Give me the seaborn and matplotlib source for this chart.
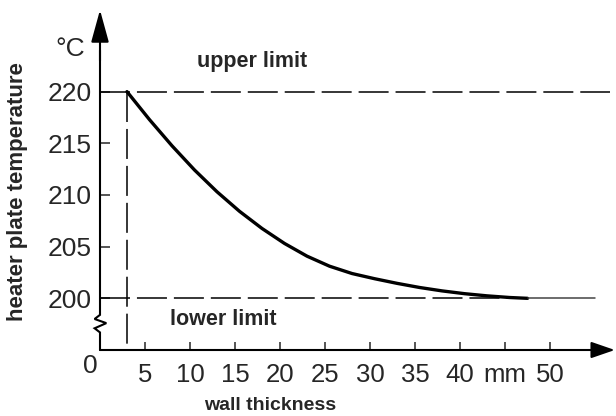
import matplotlib
matplotlib.use('Agg')
import matplotlib.pyplot as plt
import seaborn as sns
import pandas as pd

# curve
thickness = [3, 5.5, 8, 10.5, 13, 15.5, 18, 20.5, 23, 25.5, 28, 30.5, 33, 35.5,
             38, 40.5, 43, 45.5, 47.5]
temperature = [220.0, 217.29, 214.76, 212.42, 210.31, 208.42, 206.76, 205.31, 204.08, 203.11, 202.4,
               201.9, 201.45, 201.05, 200.72, 200.45, 200.24, 200.08, 200.0]

upper_limit = 220
lower_limit = 200
min_thickness = 3
upper_end = 56.7
lower_end = 55

x_ticks = [5, 10, 15, 20, 25, 30, 35, 40, 45, 50]
x_labels = ['5', '10', '15', '20', '25', '30', '35', '40', 'mm', '50']
y_ticks = [200, 205, 210, 215, 220]

sns.set_style('white')
plt.rcParams['font.family'] = ['Liberation Sans', 'DejaVu Sans']

fig = plt.figure(figsize=(6.16, 4.16), dpi=100)
ax = fig.add_axes([100 / 616, 66 / 416, 516 / 616, 340 / 416])
ax.set_xlim(0, 57.33)
ax.set_ylim(195, 227.9)
for s in ax.spines.values():
    s.set_visible(False)

df = pd.DataFrame({'thickness': thickness, 'temperature': temperature})
sns.lineplot(data=df, x='thickness', y='temperature', color='black', linewidth=2.4, ax=ax,
             clip_on=False, solid_joinstyle='round')

dash = (0, (21.6 / 1.1, 5.0 / 1.1))
ax.plot([0, upper_end], [upper_limit, upper_limit], color='black', lw=1.1, linestyle=dash, clip_on=False)
ax.plot([0, thickness[-1]], [lower_limit, lower_limit], color='black', lw=1.1, linestyle=dash)
ax.plot([thickness[-1], lower_end], [lower_limit, lower_limit], color='#444444', lw=1.1)
ax.plot([min_thickness, min_thickness], [upper_limit, 195], color='black', lw=1.1, linestyle=dash)

# axes with arrows and break mark
ax.plot([0, 0, -0.6, 0.7, -0.6, 0, 0], [195, 196.7, 197.1, 197.6, 198.0, 198.4, 224], color='black', lw=1.5,
        clip_on=False, solid_joinstyle='miter')
ax.annotate('', xy=(0, 227.9), xytext=(0, 223), annotation_clip=False,
            arrowprops=dict(arrowstyle='-|>,head_length=2.0,head_width=0.55', mutation_scale=10,
                            color='black', lw=1.5, shrinkA=0, shrinkB=0))
ax.annotate('', xy=(57.2, 195), xytext=(0, 195), annotation_clip=False,
            arrowprops=dict(arrowstyle='-|>,head_length=1.45,head_width=0.5', mutation_scale=10,
                            color='black', lw=1.5, shrinkA=0, shrinkB=0))

ax.set_xticks(x_ticks)
ax.set_xticklabels(x_labels)
ax.set_yticks(y_ticks)
ax.tick_params(axis='x', direction='in', length=6, width=1.1, pad=9, labelsize=18.5, bottom=True)
ax.tick_params(axis='y', direction='in', length=7, width=1.1, pad=6, labelsize=19, left=True)

ax.set_xlabel('')
ax.set_ylabel('')
ax.text(-1.1, 193.5, '0', fontsize=19, ha='center', va='center')
ax.text(-3.3, 224.1, '°C', fontsize=19, ha='center', va='center', clip_on=False)
ax.text(16.9, 222.4, 'upper limit', fontsize=15.5, fontweight='bold', ha='center', va='baseline')
ax.text(13.7, 197.4, 'lower limit', fontsize=15.5, fontweight='bold', ha='center', va='baseline')
fig.text(270 / 616, 1 - 410 / 416, 'wall thickness', fontsize=14, fontweight='bold', ha='center', va='baseline')
fig.text(18 / 616, 1 - 192 / 416, 'heater plate temperature', fontsize=16, fontweight='bold',
         rotation=90, ha='center', va='center')

fig.savefig('out.png', dpi=100)
